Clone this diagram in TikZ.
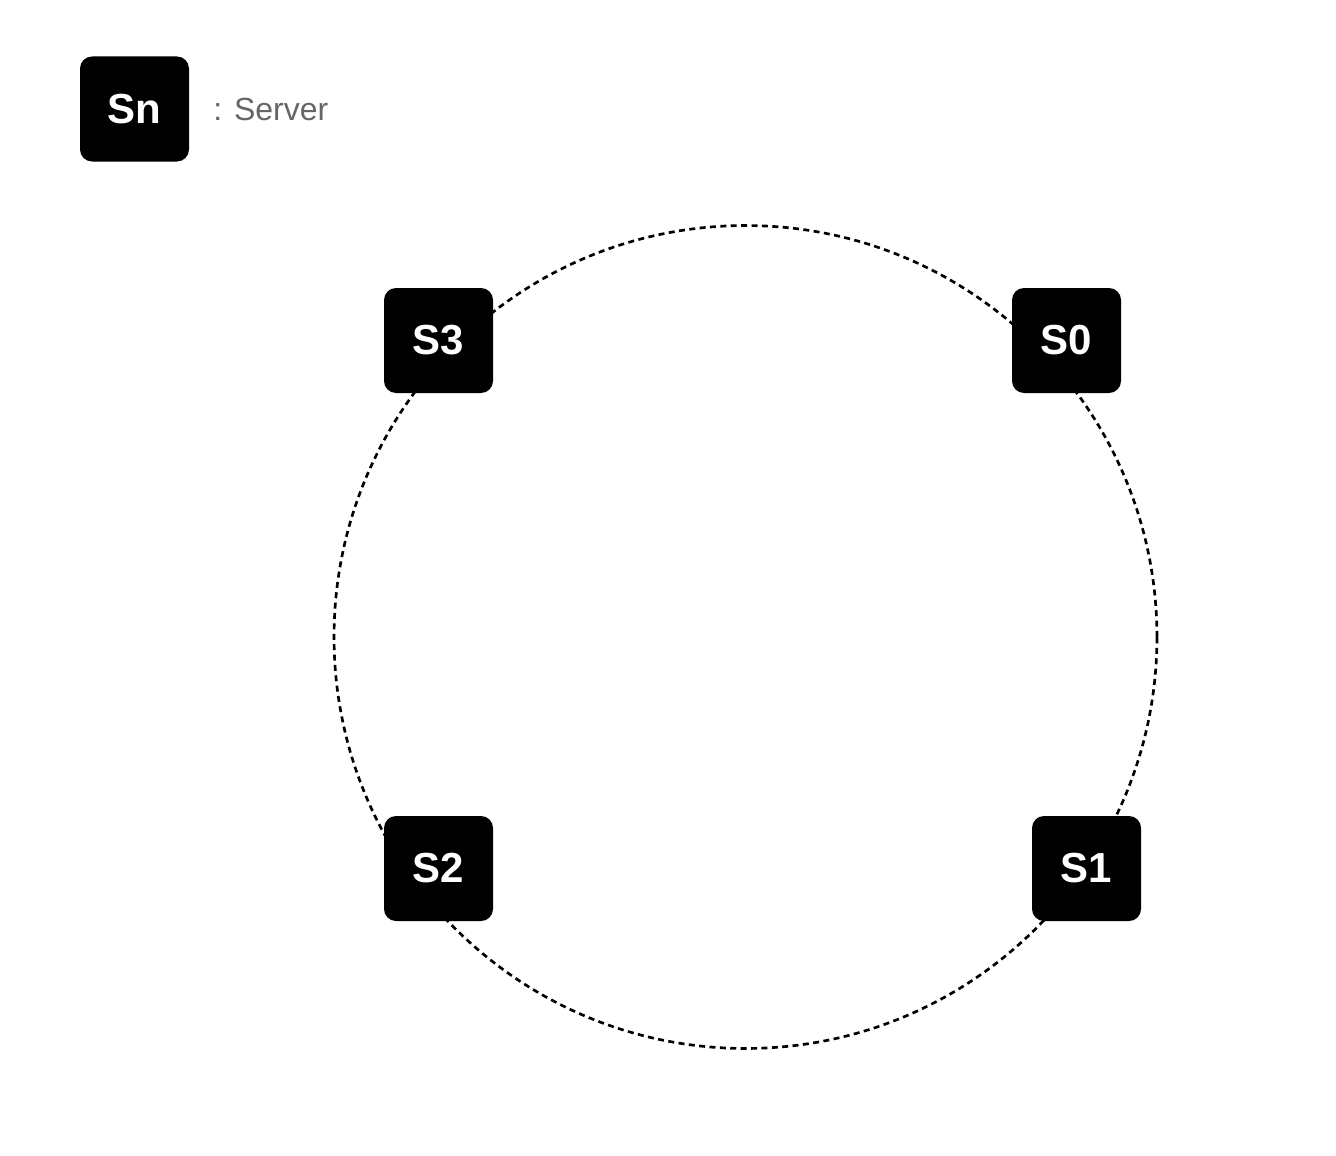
\documentclass[tikz,border=0pt]{standalone}
\usepackage{fontspec}
\setmainfont{Liberation Sans}
\usetikzlibrary{positioning}

\begin{document}
\begin{tikzpicture}[
  x=0.75pt, y=-0.75pt,
  server/.style={fill=black, rounded corners=9pt, minimum width=81.75pt, minimum height=78.75pt, inner sep=0pt, text=white, font=\fontsize{31.5}{31.5}\selectfont\bfseries},
  legendtext/.style={text=black!60, anchor=west, inner sep=0pt, font=\fontsize{24}{24}\selectfont},
  ring/.style={draw=black, line width=2pt, dash pattern=on 4.5pt off 3.3pt}
]

\useasboundingbox (0,0) rectangle (1336,1156);

% Legend
\node[server] (legend) at (134.5, 109) {Sn};
\node[legendtext] (legendlabel) at (213, 109) {: Server};

% Ring
\draw[ring] (745.5, 637) circle [radius=308.6pt];

% Servers on the ring
\node[server] (s3) at (438.5, 340.5) {S3};
\node[server] (s0) at (1066.5, 340.5) {S0};
\node[server] (s2) at (438.5, 868.5) {S2};
\node[server] (s1) at (1086.5, 868.5) {S1};

\end{tikzpicture}
\end{document}
